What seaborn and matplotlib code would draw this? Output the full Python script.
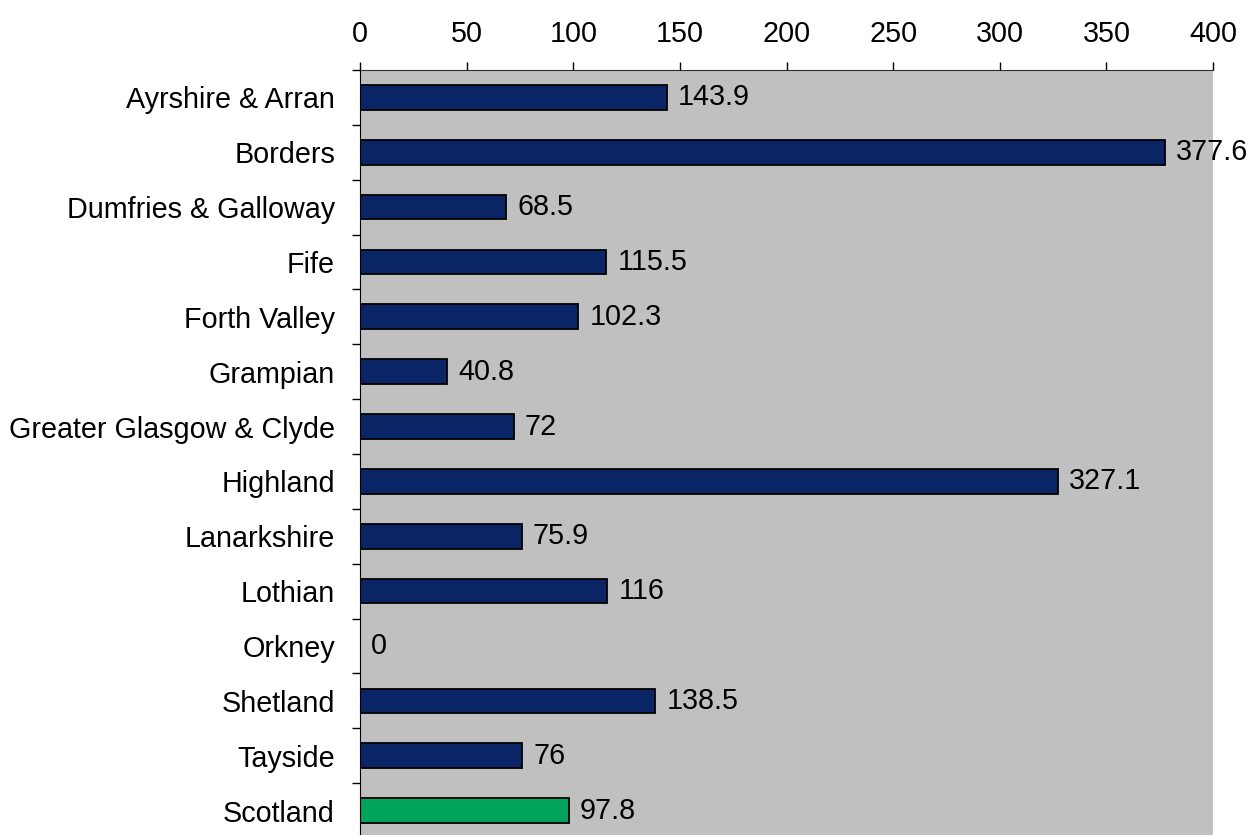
import matplotlib
matplotlib.use('Agg')
import numpy as np
import pandas as pd
import matplotlib.pyplot as plt
import seaborn as sns
from matplotlib.ticker import FixedLocator

# data
regions = ['Ayrshire & Arran', 'Borders', 'Dumfries & Galloway', 'Fife',
           'Forth Valley', 'Grampian', 'Greater Glasgow & Clyde', 'Highland',
           'Lanarkshire', 'Lothian', 'Orkney', 'Shetland', 'Tayside', 'Scotland']
rates = [143.9, 377.6, 68.5, 115.5, 102.3, 40.8, 72, 327.1, 75.9, 116, 0,
         138.5, 76, 97.8]
x_ticks = [0, 50, 100, 150, 200, 250, 300, 350, 400]
bar_colours = ['#0A2565'] * 13 + ['#00A35C']

df = pd.DataFrame({'region': regions, 'rate': rates})

plt.rcParams['font.family'] = ['Liberation Sans', 'DejaVu Sans']
FS = 20.7

fig = plt.figure(figsize=(12.57, 8.35), dpi=100)
ax = fig.add_axes([0.2864, -0.0036, 0.6786, 0.9198])
ax.set_facecolor('#C0C0C0')

sns.barplot(data=df, x='rate', y='region', hue='region', palette=bar_colours,
            saturation=1, legend=False, width=0.45, edgecolor='black',
            linewidth=1.3, orient='h', ax=ax)

# value labels at bar ends
for cont in ax.containers:
    ax.bar_label(cont, labels=['{:g}'.format(b.get_width()) for b in cont],
                 padding=8, fontsize=FS)

ax.set_xlim(0, 400)
ax.set_ylim(len(regions) - 0.5, -0.5)
ax.set_xlabel('')
ax.set_ylabel('')

# x axis on top
ax.xaxis.tick_top()
ax.set_xticks(x_ticks)
ax.tick_params(axis='x', length=5.8, width=1, pad=10, labelsize=FS,
               colors='black')

# y axis: labels at centres, tick marks between categories
ax.tick_params(axis='y', which='major', length=0, pad=18, labelsize=FS)
ax.yaxis.set_minor_locator(FixedLocator(np.arange(-0.5, len(regions), 1)))
ax.tick_params(axis='y', which='minor', length=5.8, width=1, color='black')

ax.spines['right'].set_visible(False)
ax.spines['bottom'].set_visible(False)
ax.spines['top'].set_color('#303030')
ax.spines['left'].set_color('black')

fig.savefig('out.png', dpi=100)
